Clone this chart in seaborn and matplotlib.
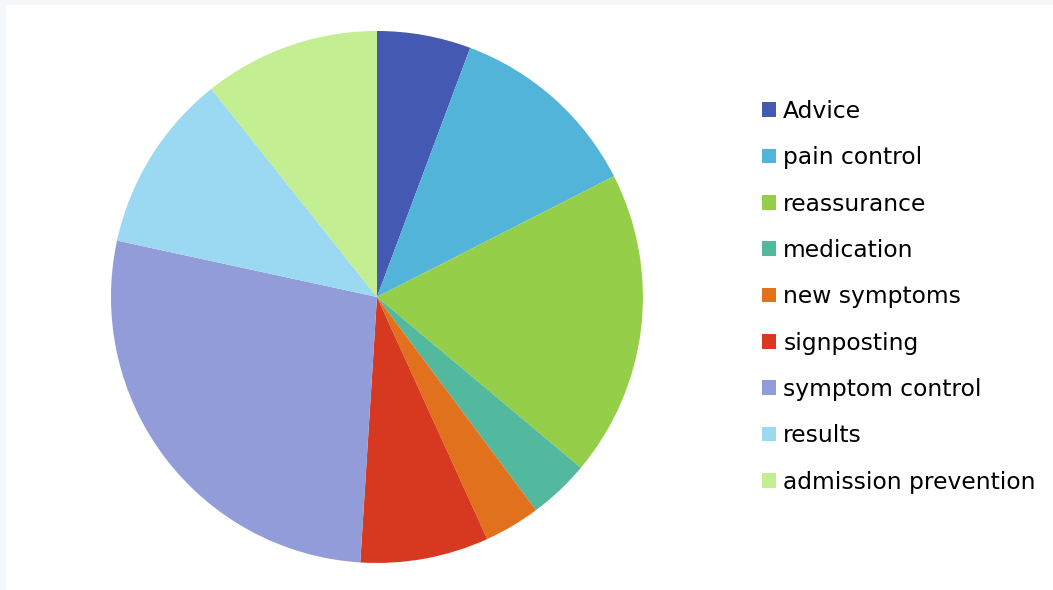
import matplotlib
matplotlib.use("Agg")
import matplotlib.pyplot as plt
import seaborn as sns
from matplotlib.patches import Rectangle

# Reasons for calls (share of total)
categories = ["Advice", "pain control", "reassurance", "medication", "new symptoms",
              "signposting", "symptom control", "results", "admission prevention"]
values = [5.7, 11.8, 18.6, 3.7, 3.4, 7.8, 27.4, 10.9, 10.7]
colors = ["#4459B1", "#52B4D9", "#95CF4A", "#52B89E", "#E2711D",
          "#D63920", "#919CD8", "#9BD9F3", "#C3EE91"]

sns.set_theme(style="white")
plt.rcParams['font.family'] = ['DejaVu Sans']

fig = plt.figure(figsize=(10.53, 5.90), dpi=100, facecolor="#F4F8FB")
# white panel with a thin light border on top / left
fig.patches.append(Rectangle((6 / 1053, 0), 1, 1 - 5 / 590, transform=fig.transFigure,
                             facecolor="white", edgecolor="none", zorder=-5))

ax = fig.add_axes([0.1054, 0.0458, 0.5052, 0.9017])
ax.set_zorder(2)
wedges, _ = ax.pie(values, colors=colors, startangle=90, counterclock=False,
                   wedgeprops=dict(linewidth=0))
ax.set_xlim(-1, 1)
ax.set_ylim(-1, 1)
ax.set_aspect("equal")
ax.axis("off")

leg = fig.legend(wedges, categories, loc="center left", bbox_to_anchor=(0.715, 0.497),
                 frameon=False, fontsize=16.8, handlelength=0.58, handleheight=0.58,
                 handletextpad=0.32, labelspacing=1.0, borderaxespad=0)
leg.set_zorder(3)
for t in leg.get_texts():
    t.set_color("black")

fig.savefig("out.png", dpi=100, facecolor=fig.get_facecolor())
